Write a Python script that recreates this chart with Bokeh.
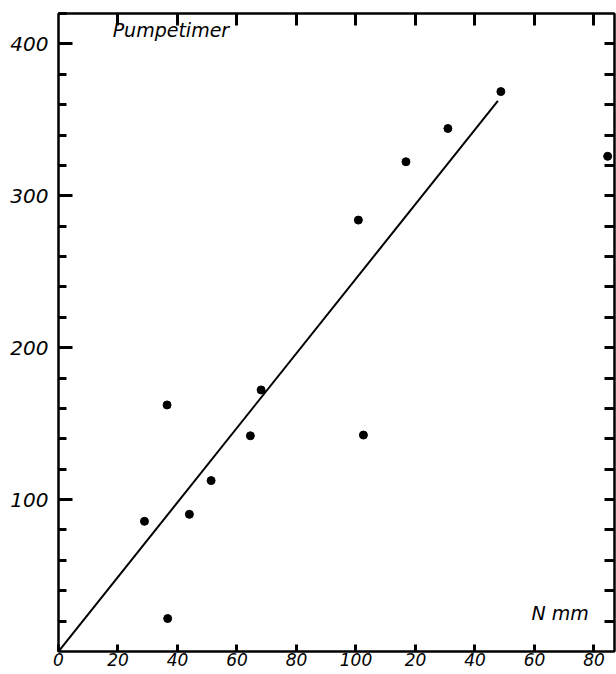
from bokeh.plotting import figure
from bokeh.models import LinearAxis, FixedTicker, Range1d, Label
from bokeh.embed import file_html
from bokeh.resources import INLINE

# data
n_mm = [28.9, 36.5, 36.7, 44.0, 51.3, 64.5, 68.1, 100.8, 102.5, 116.8, 130.9, 148.7, 184.6]
pumpetimer = [85.7, 162.3, 21.7, 90.3, 112.5, 142.0, 172.2, 284.0, 142.5, 322.4, 344.3, 368.6, 326.0]
fit_x = [0, 147.7]
fit_y = [0, 362.5]
x_ticks = [0, 20, 40, 60, 80, 100, 120, 140, 160, 180]
x_tick_labels = ["0", "20", "40", "60", "80", "100", "20", "40", "60", "80"]
y_ticks = [100, 200, 300, 400]
y_minor = [20, 40, 60, 80, 120, 140, 160, 180, 220, 240, 260, 280, 320, 340, 360, 380, 400, 420]
y_all = [20, 40, 60, 80, 100, 120, 140, 160, 180, 200, 220, 240, 260, 280, 300, 320, 340, 360, 380, 400]

FONT = "DejaVu Sans"

p = figure(width=616, height=674, output_backend="svg", toolbar_location=None,
           x_range=Range1d(0, 186.9), y_range=Range1d(0, 420),
           x_axis_location=None, y_axis_location=None,
           min_border_left=58, min_border_right=2, min_border_top=13, min_border_bottom=23)
p.grid.visible = False
p.outline_line_color = "black"
p.outline_line_width = 2
p.background_fill_color = "white"
p.border_fill_color = "white"


def style(ax, major_in=12, minor_in=8):
    ax.axis_line_width = 2
    ax.axis_line_color = "black"
    ax.major_tick_in = major_in
    ax.major_tick_out = 0
    ax.minor_tick_in = minor_in
    ax.minor_tick_out = 0
    ax.major_tick_line_width = 3
    ax.minor_tick_line_width = 3
    ax.major_label_text_font = FONT
    ax.major_label_text_font_style = "italic"
    ax.major_label_text_font_size = "20px"
    ax.major_label_text_color = "black"


left = LinearAxis(ticker=FixedTicker(ticks=y_ticks, minor_ticks=y_minor))
style(left, major_in=14)
left.major_label_standoff = 10
p.add_layout(left, "left")

# right and top frames: tick marks only (no labels)
right = LinearAxis(ticker=FixedTicker(ticks=[], minor_ticks=y_all))
style(right, minor_in=10)
p.add_layout(right, "right")

top = LinearAxis(ticker=FixedTicker(ticks=[], minor_ticks=x_ticks[1:]))
style(top, minor_in=12)
p.add_layout(top, "above")

bottom = LinearAxis(ticker=FixedTicker(ticks=x_ticks))
style(bottom, major_in=7)
bottom.major_label_overrides = {t: l for t, l in zip(x_ticks, x_tick_labels)}
bottom.major_label_text_font_size = "17px"
bottom.major_label_standoff = 1
p.add_layout(bottom, "below")

p.line(fit_x, fit_y, line_color="black", line_width=2)
p.scatter(n_mm, pumpetimer, size=8, color="black")

p.add_layout(Label(x=18.2, y=402, text="Pumpetimer", text_font=FONT, text_font_style="italic",
                   text_font_size="19px", text_color="black"))
p.add_layout(Label(x=159, y=18.4, text="N mm", text_font=FONT, text_font_style="italic",
                   text_font_size="19px", text_color="black"))

open("out.html", "w").write(file_html(p, INLINE))
